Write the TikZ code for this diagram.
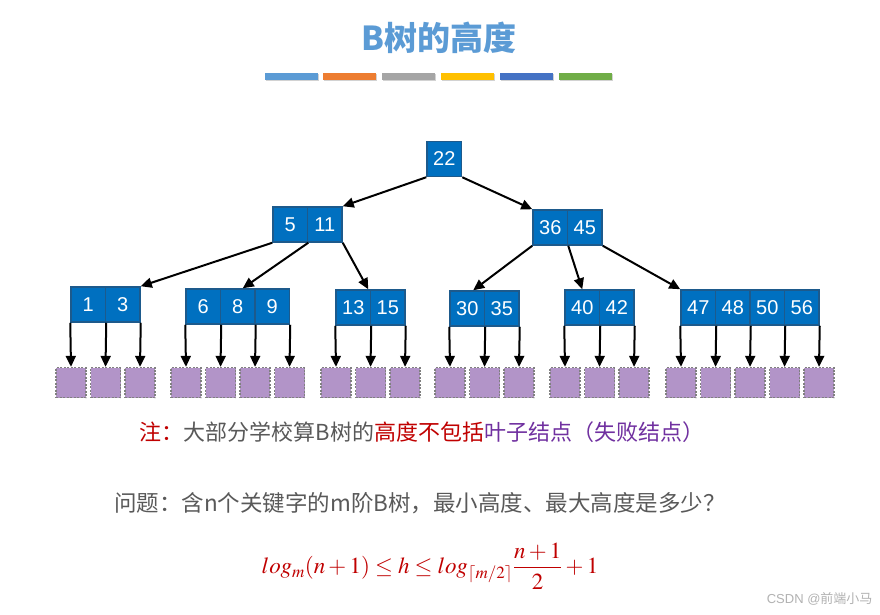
\documentclass[tikz,border=0pt]{standalone}
\usepackage{mathptmx}
\usepackage[no-math]{fontspec}
\setmainfont{Liberation Sans}
\newfontfamily\cjk{Noto Sans CJK SC}
\usetikzlibrary{arrows.meta,shadows}
\definecolor{keyfill}{HTML}{0070C0}
\definecolor{keydraw}{HTML}{1D5A8C}
\definecolor{leaffill}{HTML}{B294C8}
\definecolor{leafdraw}{HTML}{808080}
\definecolor{titleblue}{HTML}{5B9BD5}
\definecolor{txtgray}{HTML}{595959}
\definecolor{txtred}{HTML}{C00000}
\definecolor{txtpurple}{HTML}{7030A0}
\definecolor{barA}{HTML}{5B9BD5}
\definecolor{barB}{HTML}{ED7D31}
\definecolor{barC}{HTML}{A5A5A5}
\definecolor{barD}{HTML}{FFC000}
\definecolor{barE}{HTML}{4472C4}
\definecolor{barF}{HTML}{70AD47}
\tikzset{
  keycell/.style={draw=keydraw, fill=keyfill, line width=1.5pt, text=white,
    minimum width=34.5pt, minimum height=35pt, inner sep=0pt,
    font=\fontsize{20}{23}\selectfont},
  leaf/.style={draw=leafdraw, fill=leaffill, line width=1.3pt,
    dash pattern=on 2pt off 1.5pt, minimum size=30pt, inner sep=0pt},
  arr/.style={draw=black, line width=2pt, -{Triangle[width=10pt,length=11pt]}},
  bar/.style={minimum width=53pt, minimum height=7pt, inner sep=0pt,
    drop shadow={shadow xshift=1pt, shadow yshift=-1.5pt, opacity=0.35}},
}
\newcommand\keyrow[4]{%
  \foreach \k [count=\i] in {#4} {
    \node[keycell] (#1\i) at ({#2+(\i-0.5)*34.5},#3) {\k};
  }}
\newcommand\leafrow[3]{%
  \foreach \j in {0,...,#3} {
    \node[leaf] (L#1\j) at ({#2+\j*34.5},382.5) {};
    \ifnum\j=0 \draw[arr] (#11.south west) -- (L#1\j.north);
    \else \draw[arr] (#1\j.south east) -- (L#1\j.north); \fi
  }}
\begin{document}
\begin{tikzpicture}[x=1pt,y=-1pt]
\useasboundingbox (0,0) rectangle (880,615);
\fill[white] (0,0) rectangle (880,615);
% title
\node[text=titleblue, font=\cjk\bfseries\fontsize{33}{38}\selectfont] (title) at (439,38) {B树的高度};
\node[bar, fill=barA] (b1) at (291.5,76.5) {};
\node[bar, fill=barB] (b2) at (349,76.5) {};
\node[bar, fill=barC] (b3) at (408,76.5) {};
\node[bar, fill=barD] (b4) at (467,76.5) {};
\node[bar, fill=barE] (b5) at (526,76.5) {};
\node[bar, fill=barF] (b6) at (585.5,76.5) {};
% keys
\keyrow{r}{427}{159}{22}
\keyrow{a}{273}{224.5}{5,11}
\keyrow{b}{533}{227.5}{36,45}
\keyrow{c}{71}{304.5}{1,3}
\keyrow{d}{186}{306.5}{6,8,9}
\keyrow{e}{336}{307.5}{13,15}
\keyrow{f}{450}{308.5}{30,35}
\keyrow{g}{565}{307.5}{40,42}
\keyrow{h}{681}{307.5}{47,48,50,56}
% inner arrows
\draw[arr] (r1.south west) -- (a2.north east);
\draw[arr] (r1.south east) -- (b1.north west);
\draw[arr] (a1.south west) -- (c2.north east);
\draw[arr] (a1.south east) -- ([xshift=5pt]d2.north);
\draw[arr] (a2.south east) -- ([xshift=-3pt]e1.north east);
\draw[arr] (b1.south west) -- ([xshift=6pt]f1.north);
\draw[arr] (b1.south east) -- (g1.north);
\draw[arr] (b2.south east) -- (h1.north west);
% leaves
\leafrow{c}{71}{2}
\leafrow{d}{186}{3}
\leafrow{e}{336}{2}
\leafrow{f}{450}{2}
\leafrow{g}{565}{2}
\leafrow{h}{681}{4}
% texts
\node[font=\cjk\fontsize{22}{26}\selectfont, text=txtgray] (note) at (422,432)
  {\textcolor{txtred}{注：}大部分学校算B树的\textcolor{txtred}{高度不包括}\textcolor{txtpurple}{叶子结点（失败结点）}};
\node[font=\cjk\fontsize{22.5}{26}\selectfont, text=txtgray] (q) at (420,503)
  {问题：含n个关键字的m阶B树，最小高度、最大高度是多少？};
\node[text=txtred, font=\fontsize{23}{27}\selectfont] (formula) at (430,566)
  {$\displaystyle log_m(n+1)\le h\le log_{\lceil m/2\rceil}\frac{n+1}{2}+1$};
\node[text=black!30, font=\fontsize{13}{15}\selectfont, anchor=east] (wm) at (876,599)
  {CSDN @{\cjk 前端小马}};
\end{tikzpicture}
\end{document}
